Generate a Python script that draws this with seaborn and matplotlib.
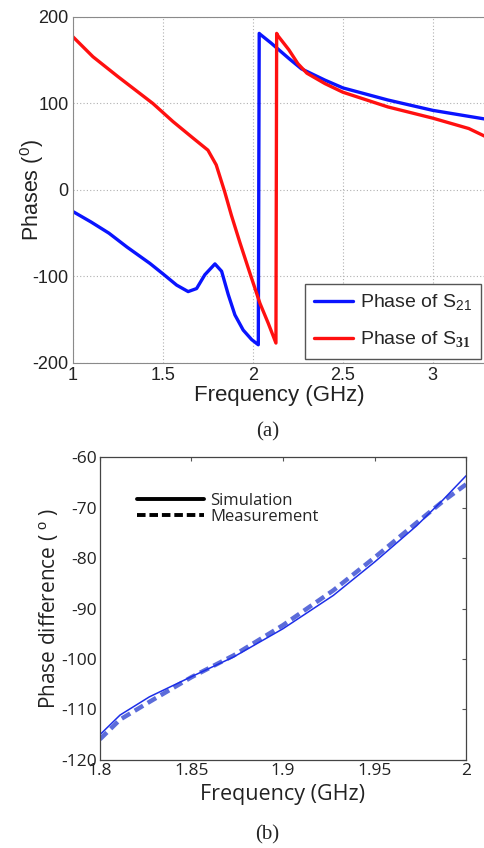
import numpy as np
import pandas as pd
import seaborn as sns
import matplotlib.pyplot as plt
from matplotlib.lines import Line2D

# ==============================
# Data
# ==============================
# (a) phases of S21 and S31
f_s21 = [1.0, 1.1, 1.2, 1.3, 1.428, 1.5, 1.576, 1.64, 1.687, 1.733, 1.789,
         1.826, 1.863, 1.9, 1.946, 1.993, 2.03, 2.035, 2.04, 2.1, 2.2, 2.27,
         2.4, 2.5, 2.75, 3.0, 3.29]
ph_s21 = [-25, -37, -50, -66, -85, -97, -110, -117.5, -114, -98, -85.5, -94,
          -121, -144.5, -162, -173, -179, 181, 180, 170, 152, 140, 127, 118,
          104, 92, 82]

f_s31 = [1.0, 1.111, 1.25, 1.444, 1.556, 1.667, 1.75, 1.796, 1.843, 1.88,
         1.928, 1.983, 2.039, 2.085, 2.128, 2.132, 2.14, 2.2, 2.25, 2.3, 2.4,
         2.5, 2.75, 3.0, 3.2, 3.29]
ph_s31 = [177, 154, 131, 100, 79, 60, 46, 29, -2, -29, -61, -96, -131, -154,
          -177, 181, 178, 162, 146, 135, 123, 113, 96, 83, 71, 62]

# (b) phase difference
f_diff = [1.8, 1.811, 1.827, 1.85, 1.873, 1.9, 1.9275, 1.95, 1.973, 1.9876,
          2.0]
diff_sim = [-115.0, -111.1, -107.5, -103.5, -99.6, -94.0, -87.4, -80.8, -73.6,
            -68.4, -63.7]
diff_meas = [-115.9, -112.0, -108.5, -103.6, -99.3, -93.3, -86.4, -79.9,
             -73.0, -68.7, -65.4]

# ==============================
# Figure
# ==============================
sns.set_style("white")
plt.rcParams['font.family'] = ['Liberation Sans', 'DejaVu Sans']
plt.rcParams['axes.unicode_minus'] = False
plt.rcParams['mathtext.fontset'] = 'custom'
plt.rcParams['mathtext.rm'] = 'Liberation Sans'
plt.rcParams['mathtext.bf'] = 'Liberation Serif:bold'

SEGOE = ["Open Sans", "DejaVu Sans"]

fig = plt.figure(figsize=(4.85, 8.48), dpi=100)

# ---- panel (a)
ax1 = fig.add_axes([0.1505, 0.572, 0.8495, 0.408])
df21 = pd.DataFrame({"f": f_s21, "phase": ph_s21})
df31 = pd.DataFrame({"f": f_s31, "phase": ph_s31})
sns.lineplot(data=df21, x="f", y="phase", ax=ax1, color="#0a14ff", lw=2.4,
             sort=False, estimator=None, label="Phase of S$_{21}$")
sns.lineplot(data=df31, x="f", y="phase", ax=ax1, color="#ff1010", lw=2.4,
             sort=False, estimator=None, label="Phase of S$_{\\mathbf{31}}$")
ax1.set_xlim(1, 3.29)
ax1.set_ylim(-200, 200)
ax1.set_xticks([1, 1.5, 2, 2.5, 3])
ax1.set_xticklabels(["1", "1.5", "2", "2.5", "3"])
ax1.set_yticks([-200, -100, 0, 100, 200])
ax1.grid(True, ls=(0, (1, 2)), color="#b0b0b0", lw=0.8)
ax1.tick_params(direction="in", length=3, labelsize=13, colors="#222222",
                pad=3)
for s in ["left", "bottom", "top"]:
    ax1.spines[s].set_color("#8a8a8a")
ax1.spines["right"].set_visible(False)
ax1.set_xlabel("Frequency (GHz)", fontsize=16, color="#222222", labelpad=1)
ax1.set_ylabel("Phases ($^{0}$)", fontsize=15.5, color="#222222")
ax1.yaxis.set_label_coords(-0.065, 0.5)
leg = ax1.legend(loc="lower right", fontsize=14, handlelength=2.0,
                 labelspacing=0.85, borderpad=0.45, handletextpad=0.4,
                 borderaxespad=0.2, fancybox=False, framealpha=1,
                 bbox_to_anchor=(1.0, 0.0))
leg.get_frame().set_edgecolor("#555555")

# ---- panel (b)
ax2 = fig.add_axes([0.206, 0.1038, 0.755, 0.3572])
dfd = pd.DataFrame({"f": f_diff, "sim": diff_sim, "meas": diff_meas})
sns.lineplot(data=dfd, x="f", y="meas", ax=ax2, color="#4a5cd6", lw=3.2,
             ls=(0, (2.2, 1.2)), alpha=0.9)
sns.lineplot(data=dfd, x="f", y="sim", ax=ax2, color="#1c2ee8", lw=1.1)
ax2.set_xlim(1.8, 2.0)
ax2.set_ylim(-120, -60)
ax2.set_xticks([1.8, 1.85, 1.9, 1.95, 2.0])
ax2.set_xticklabels(["1.8", "1.85", "1.9", "1.95", "2"])
ax2.set_yticks([-120, -110, -100, -90, -80, -70, -60])
ax2.tick_params(direction="in", length=3, width=0.8, color="#555555",
                labelsize=12.5, labelcolor="#222222", pad=2,
                top=True, right=True)
for lab in ax2.get_xticklabels() + ax2.get_yticklabels():
    lab.set_family(SEGOE)
for s in ax2.spines.values():
    s.set_color("#444444")
    s.set_linewidth(0.9)
ax2.set_xlabel("Frequency (GHz)", fontsize=15.5, color="#222222",
               family=SEGOE, labelpad=4)
ax2.set_ylabel("Phase difference ( $^{\\mathrm{o}}$ )", fontsize=15,
               color="#222222", family=SEGOE)
ax2.yaxis.set_label_coords(-0.105, 0.5)
handles = [Line2D([], [], color="black", lw=2.8),
           Line2D([], [], color="black", lw=2.8, ls=(0, (2.2, 1.0)))]
ax2.legend(handles, ["Simulation", "Measurement"], loc="upper left",
           bbox_to_anchor=(0.07, 0.92), frameon=False,
           handlelength=4.0, handletextpad=0.4, labelspacing=0.0,
           borderpad=0.2, prop={"family": SEGOE, "size": 12})

# captions
fig.text(0.551, 1 - 432 / 848, "(a)", ha="center", va="center", fontsize=15,
         family=["Liberation Serif", "DejaVu Serif"])
fig.text(0.551, 1 - 835 / 848, "(b)", ha="center", va="center", fontsize=15,
         family=["Liberation Serif", "DejaVu Serif"])

fig.savefig("out.png", dpi=100)
